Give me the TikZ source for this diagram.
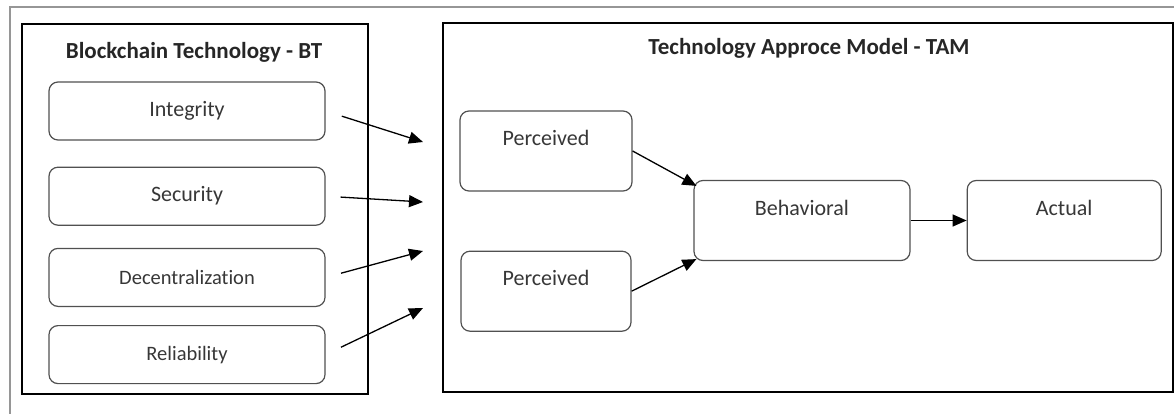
\documentclass[tikz,border=0pt]{standalone}
\usepackage{fontspec}
\setmainfont{Carlito}[Ligatures=NoCommon]
\usepackage{tikz}
\usetikzlibrary{arrows.meta, positioning}
\definecolor{boxgray}{RGB}{80,80,80}
\definecolor{textgray}{RGB}{55,55,55}
\definecolor{framegray}{RGB}{150,150,150}

\begin{document}
\begin{tikzpicture}[
    x=1pt, y=-1pt,
    node distance=22pt and 56pt,
    frame/.style={rectangle, draw=black, line width=2.2pt, minimum width=346pt, minimum height=370pt},
    heading/.style={font=\fontsize{23}{27}\selectfont\bfseries, text=black!85},
    item/.style={rectangle, draw=boxgray, line width=1.2pt, rounded corners=9pt, minimum width=276pt, minimum height=58pt, text=textgray, font=\fontsize{22}{26}\selectfont},
    smallitem/.style={item, font=\fontsize{20.5}{24}\selectfont},
    tam/.style={item, minimum height=80pt, text height=16pt, text depth=27pt},
    arrow/.style={-{Triangle[length=14pt, width=12pt]}, line width=1.3pt}
]

\useasboundingbox (0,0) rectangle (1174,414);
\draw[framegray, line width=1.8pt] (10,414) -- (10,7) -- (1174,7);

% blockchain side
\node[frame] (bt) at (195,209) {};
\node[heading] (bttitle) at (194,52) {Blockchain Technology - BT};
\node[item] (integrity) at (187,111) {Integrity};
\node[item, below=26pt of integrity] (security) {Security};
\node[smallitem, below=of security] (decentral) {Decentralization};
\node[smallitem, below=18pt of decentral] (reliability) {Reliability};

% acceptance model side
\node[frame, minimum width=730pt, minimum height=369pt] (tamframe) at (808,207.5) {};
\node[heading] (tamtitle) at (809,48) {Technology Approce Model - TAM};
\node[tam, minimum width=172pt] (useful) at (546,151) {Perceived};
\node[tam, minimum width=170pt, below=59pt of useful] (ease) {Perceived};
\node[tam, minimum width=216pt] (behavioral) at (802,220.5) {Behavioral};
\node[tam, minimum width=194pt, right=of behavioral] (actual) {Actual};

\coordinate (in1) at (423,142);
\coordinate (in2) at (423,202);
\coordinate (in3) at (423,251);
\coordinate (in4) at (423,308);

\draw[arrow, shorten <=17pt] (integrity.east) -- (in1);
\draw[arrow, shorten <=15pt] (security.east) -- (in2);
\draw[arrow, shorten <=16pt] (decentral.east) -- (in3);
\draw[arrow, shorten <=17pt] (reliability.east) -- (in4);
\draw[arrow] (useful.east) -- ([shift={(3,6)}]behavioral.north west);
\draw[arrow] (ease.east) -- ([shift={(3,-2)}]behavioral.south west);
\draw[arrow] (behavioral) -- (actual);

\end{tikzpicture}
\end{document}
